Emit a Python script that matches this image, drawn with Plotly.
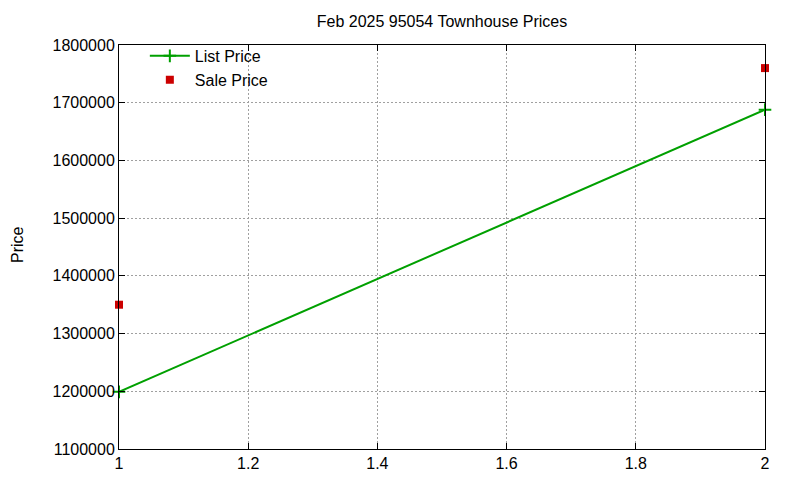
import plotly.graph_objects as go

x_vals = [1, 2]
list_price = [1199000, 1688000]
sale_price = [1350000, 1760000]

font = "Liberation Sans, Arial, sans-serif"

fig = go.Figure()
fig.add_trace(go.Scatter(
    x=x_vals, y=list_price, name="List Price", mode="lines+markers",
    line=dict(color="#00a000", width=2),
    marker=dict(symbol="cross-thin", size=9, line=dict(color="#00a000", width=2)),
    cliponaxis=False,
))
fig.add_trace(go.Scatter(
    x=x_vals, y=sale_price, name="Sale Price", mode="markers",
    marker=dict(symbol="square", size=8, color="#cc0000"),
    cliponaxis=False,
))

axis_common = dict(
    showline=True, linecolor="black", linewidth=1, mirror="ticks",
    ticks="inside", ticklen=6, tickcolor="black",
    showgrid=True, gridcolor="#a0a0a0", griddash="2px,2px", gridwidth=1,
    zeroline=False, automargin=False,
    tickfont=dict(family=font, size=16, color="black"),
)

H = 480
fig.update_layout(
    width=800, height=H,
    paper_bgcolor="white", plot_bgcolor="white",
    margin=dict(l=111, r=43, t=37, b=39),
    title=dict(text="Feb 2025 95054 Townhouse Prices", x=(442 - 8) / 800, xanchor="center",
               y=1 - 13 / H, yanchor="middle",
               font=dict(family=font, size=16, color="black")),
    xaxis=dict(range=[1, 2], tickvals=[1, 1.2, 1.4, 1.6, 1.8, 2],
               ticktext=["1", "1.2", "1.4", "1.6", "1.8", "2"], **axis_common),
    yaxis=dict(range=[1100000, 1800000], dtick=100000, tickformat="d",
               **axis_common),
    legend=dict(x=0.04, y=1.015, xanchor="left", yanchor="top",
                bgcolor="rgba(0,0,0,0)", font=dict(family=font, size=16, color="black"),
                tracegroupgap=0, itemwidth=40),
    showlegend=True,
    annotations=[dict(text="Price", textangle=-90, xref="paper", yref="paper",
                      x=(10 - 111) / 646, y=0.505, xanchor="center", yanchor="middle",
                      showarrow=False, font=dict(family=font, size=16, color="black"))],
)

fig.write_html("out.html")
